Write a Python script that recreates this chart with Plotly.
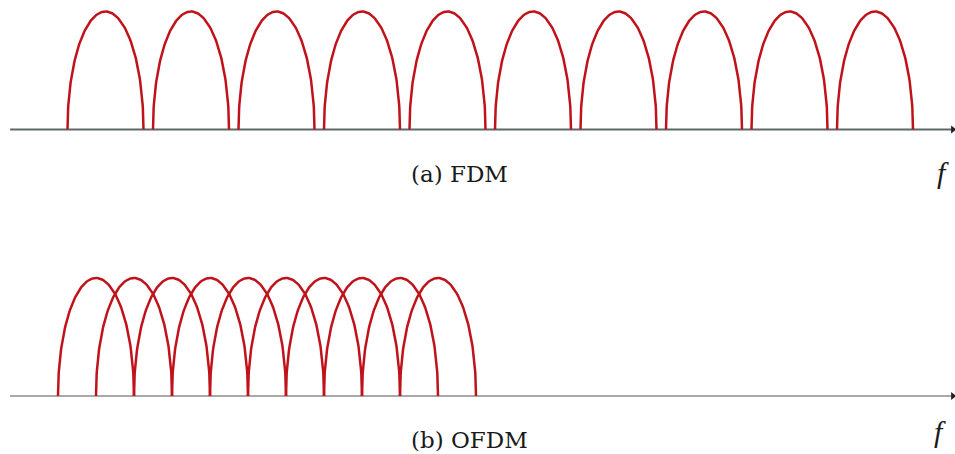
import numpy as np
import plotly.graph_objects as go

# ---- data (frequency in units of OFDM subcarrier spacing) ----
fdm_centers = [1.25, 3.5, 5.75, 8.0, 10.25, 12.5, 14.75, 17.0, 19.25, 21.5]
fdm_heights = [1, 1, 1, 1, 1, 1, 1, 1, 1, 1]
ofdm_centers = [1, 2, 3, 4, 5, 6, 7, 8, 9, 10]
ofdm_heights = [1, 1, 1, 1, 1, 1, 1, 1, 1, 1]
lobe_halfwidth = 1.0
panel_labels = ["(a) FDM", "(b) OFDM"]
axis_label = "f"
f_axis_start = -1.26
f_axis_end = 23.55

# ---- layout geometry (pixels) ----
W, H = 955, 454
px_per_unit_x = 38.0
x_origin_px = 58.0
px_per_unit_y = 118.0
top_base_px, top_dom = 129.5, (0, 200)
bot_base_px, bot_dom = 396.0, (254, 454)

RED = "#c0121b"

def arch(c, h, hw, n=120):
    t = np.linspace(0, np.pi, n)
    return c + hw * np.cos(t), h * np.sin(t)

fig = go.Figure()

def add_panel(centers, heights, xa, ya, axis_color):
    fig.add_trace(go.Scatter(x=[f_axis_start, f_axis_end], y=[0, 0], mode="lines",
                             line=dict(color=axis_color, width=2), xaxis=xa, yaxis=ya,
                             hoverinfo="skip", showlegend=False))
    fig.add_trace(go.Scatter(x=[f_axis_end], y=[0], mode="markers",
                             marker=dict(symbol="triangle-right", size=7, color="#222222"),
                             xaxis=xa, yaxis=ya, hoverinfo="skip", showlegend=False))
    for c, h in zip(centers, heights):
        xs, ys = arch(c, h, lobe_halfwidth)
        fig.add_trace(go.Scatter(x=xs, y=ys, mode="lines",
                                 line=dict(color=RED, width=2.5),
                                 xaxis=xa, yaxis=ya, hoverinfo="skip", showlegend=False))

add_panel(fdm_centers, fdm_heights, "x", "y", "#5d6868")
add_panel(ofdm_centers, ofdm_heights, "x2", "y2", "#a8a8a8")

xr = [(0 - x_origin_px) / px_per_unit_x, (W - x_origin_px) / px_per_unit_x]

def yrange(base, dom):
    return [-(dom[1] - base) / px_per_unit_y, (base - dom[0]) / px_per_unit_y]

def pdomain(dom):
    return [1 - dom[1] / H, 1 - dom[0] / H]

ax_common = dict(visible=False, showgrid=False, zeroline=False, fixedrange=True)
fig.update_layout(
    width=W, height=H,
    margin=dict(l=0, r=0, t=0, b=0),
    paper_bgcolor="white", plot_bgcolor="white",
    xaxis=dict(range=xr, domain=[0, 1], anchor="y", **ax_common),
    yaxis=dict(range=yrange(top_base_px, top_dom), domain=pdomain(top_dom), anchor="x", **ax_common),
    xaxis2=dict(range=xr, domain=[0, 1], anchor="y2", **ax_common),
    yaxis2=dict(range=yrange(bot_base_px, bot_dom), domain=pdomain(bot_dom), anchor="x2", **ax_common),
    showlegend=False,
)

font = dict(family="DejaVu Serif", size=23, color="#1a1a1a")
for label, ypx in zip(panel_labels, [174, 440]):
    fig.add_annotation(text=label, xref="paper", yref="paper", x=409 / W, y=1 - ypx / H,
                       xanchor="left", yanchor="middle", showarrow=False, font=font)
for ypx, xpx in [(173, 943), (431, 940)]:
    fig.add_annotation(text="<i>" + axis_label + "</i>", xref="paper", yref="paper",
                       x=xpx / W, y=1 - ypx / H, xanchor="center", yanchor="middle",
                       showarrow=False, font=dict(family="Liberation Serif", size=30, color="#1a1a1a"))

fig.write_html("out.html")
